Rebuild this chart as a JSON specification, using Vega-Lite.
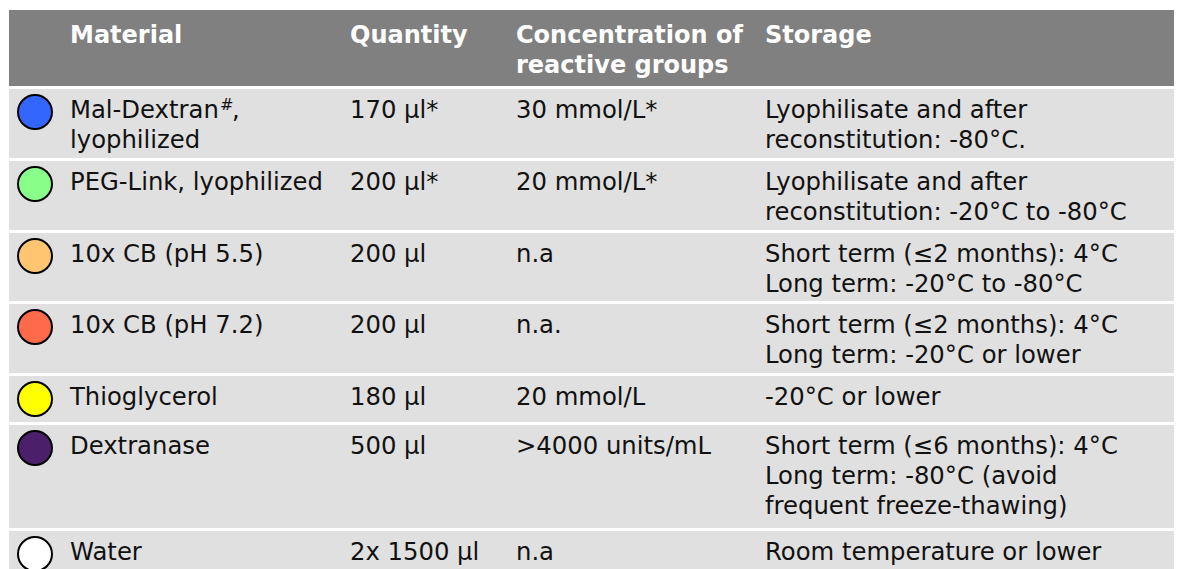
{
  "$schema": "https://vega.github.io/schema/vega-lite/v6.json",
  "width": 1178,
  "height": 569,
  "padding": 0,
  "autosize": {"type": "none"},
  "background": "white",
  "config": {"view": {"stroke": null}, "axis": {"disable": true}},
  "datasets": {
    "bg": [
      {"row": 0, "rowEnd": 1},
      {"row": 1, "rowEnd": 2},
      {"row": 2, "rowEnd": 3},
      {"row": 3, "rowEnd": 4},
      {"row": 4, "rowEnd": 5},
      {"row": 5, "rowEnd": 6},
      {"row": 6, "rowEnd": 7},
      {"row": 7, "rowEnd": 8}
    ],
    "cells": [
      {"row": 0, "col": 2, "text": "Material"},
      {"row": 0, "col": 3, "text": "Quantity"},
      {"row": 0, "col": 4, "text": "Concentration of\nreactive groups"},
      {"row": 0, "col": 5, "text": "Storage"},
      {"row": 1, "col": 2, "text": "Mal-Dextran\nlyophilized"},
      {"row": 1, "col": 3, "text": "170 µl*"},
      {"row": 1, "col": 4, "text": "30 mmol/L*"},
      {"row": 1, "col": 5, "text": "Lyophilisate and after\nreconstitution: -80°C."},
      {"row": 2, "col": 2, "text": "PEG-Link, lyophilized"},
      {"row": 2, "col": 3, "text": "200 µl*"},
      {"row": 2, "col": 4, "text": "20 mmol/L*"},
      {"row": 2, "col": 5, "text": "Lyophilisate and after\nreconstitution: -20°C to -80°C"},
      {"row": 3, "col": 2, "text": "10x CB (pH 5.5)"},
      {"row": 3, "col": 3, "text": "200 µl"},
      {"row": 3, "col": 4, "text": "n.a"},
      {"row": 3, "col": 5, "text": "Short term (≤2 months): 4°C\nLong term: -20°C to -80°C"},
      {"row": 4, "col": 2, "text": "10x CB (pH 7.2)"},
      {"row": 4, "col": 3, "text": "200 µl"},
      {"row": 4, "col": 4, "text": "n.a."},
      {"row": 4, "col": 5, "text": "Short term (≤2 months): 4°C\nLong term: -20°C or lower"},
      {"row": 5, "col": 2, "text": "Thioglycerol"},
      {"row": 5, "col": 3, "text": "180 µl"},
      {"row": 5, "col": 4, "text": "20 mmol/L"},
      {"row": 5, "col": 5, "text": "-20°C or lower"},
      {"row": 6, "col": 2, "text": "Dextranase"},
      {"row": 6, "col": 3, "text": "500 µl"},
      {"row": 6, "col": 4, "text": ">4000 units/mL"},
      {"row": 6, "col": 5, "text": "Short term (≤6 months): 4°C\nLong term: -80°C (avoid\nfrequent freeze-thawing)"},
      {"row": 7, "col": 2, "text": "Water"},
      {"row": 7, "col": 3, "text": "2x 1500 µl"},
      {"row": 7, "col": 4, "text": "n.a"},
      {"row": 7, "col": 5, "text": "Room temperature or lower"}
    ],
    "items": [
      {"row": 1, "material": "Mal-Dextran"},
      {"row": 2, "material": "PEG-Link"},
      {"row": 3, "material": "10x CB (pH 5.5)"},
      {"row": 4, "material": "10x CB (pH 7.2)"},
      {"row": 5, "material": "Thioglycerol"},
      {"row": 6, "material": "Dextranase"},
      {"row": 7, "material": "Water"}
    ],
    "sup": [
      {"row": 1, "col": 2, "text": "#"}
    ],
    "comma": [
      {"row": 1, "col": 2, "text": ","}
    ]
  },
  "layer": [
    {
      "data": {"name": "bg"},
      "mark": {"type": "rect", "stroke": "white", "strokeWidth": 3},
      "encoding": {
        "x": {"datum": 0, "type": "quantitative",
              "scale": {"domain": [0, 1, 2, 3, 4, 5, 6], "range": [7.5, 35, 70, 350, 516, 765, 1175.5], "zero": false, "nice": false}, "axis": null},
        "x2": {"datum": 6},
        "y": {"field": "row", "type": "quantitative",
              "scale": {"domain": [0, 1, 2, 3, 4, 5, 6, 7, 8], "range": [8.5, 87.5, 159.5, 231.5, 302.5, 374.5, 423.5, 529.5, 580.5], "zero": false, "nice": false}, "axis": null},
        "y2": {"field": "rowEnd"},
        "fill": {
          "condition": {"test": "datum.row === 0", "value": "#808080"},
          "value": "#E0E0E0"
        }
      }
    },
    {
      "data": {"name": "items"},
      "mark": {"type": "point", "shape": "circle", "filled": true, "size": 1156, "stroke": "black", "strokeWidth": 2, "opacity": 1, "yOffset": 24.5},
      "encoding": {
        "x": {"datum": 1, "type": "quantitative", "axis": null},
        "y": {"field": "row", "type": "quantitative", "axis": null},
        "fill": {
          "field": "material", "type": "nominal", "legend": null,
          "scale": {
            "domain": ["Mal-Dextran", "PEG-Link", "10x CB (pH 5.5)", "10x CB (pH 7.2)", "Thioglycerol", "Dextranase", "Water"],
            "range": ["#3366FF", "#88FF88", "#FFC570", "#FF6A4A", "#FFFF00", "#4B1F6B", "#FFFFFF"]
          }
        }
      }
    },
    {
      "data": {"name": "cells"},
      "transform": [{"filter": "datum.row === 0"}],
      "mark": {"type": "text", "font": "DejaVu Sans", "fontSize": 24, "fontWeight": "bold", "color": "white", "align": "left", "baseline": "alphabetic", "lineBreak": "\n", "lineHeight": 30, "dy": 34.5},
      "encoding": {
        "x": {"field": "col", "type": "quantitative", "axis": null},
        "y": {"field": "row", "type": "quantitative", "axis": null},
        "text": {"field": "text"}
      }
    },
    {
      "data": {"name": "cells"},
      "transform": [{"filter": "datum.row > 0"}],
      "mark": {"type": "text", "font": "DejaVu Sans", "fontSize": 24.3, "color": "#111111", "align": "left", "baseline": "alphabetic", "lineBreak": "\n", "lineHeight": 30, "dy": 30.5},
      "encoding": {
        "x": {"field": "col", "type": "quantitative", "axis": null},
        "y": {"field": "row", "type": "quantitative", "axis": null},
        "text": {"field": "text"}
      }
    },
    {
      "data": {"name": "sup"},
      "mark": {"type": "text", "font": "DejaVu Sans", "fontSize": 16, "color": "#111111", "align": "left", "baseline": "alphabetic", "dx": 150, "dy": 22.5},
      "encoding": {
        "x": {"field": "col", "type": "quantitative", "axis": null},
        "y": {"field": "row", "type": "quantitative", "axis": null},
        "text": {"field": "text"}
      }
    },
    {
      "data": {"name": "comma"},
      "mark": {"type": "text", "font": "DejaVu Sans", "fontSize": 24.3, "color": "#111111", "align": "left", "baseline": "alphabetic", "dx": 162, "dy": 30.5},
      "encoding": {
        "x": {"field": "col", "type": "quantitative", "axis": null},
        "y": {"field": "row", "type": "quantitative", "axis": null},
        "text": {"field": "text"}
      }
    }
  ]
}
